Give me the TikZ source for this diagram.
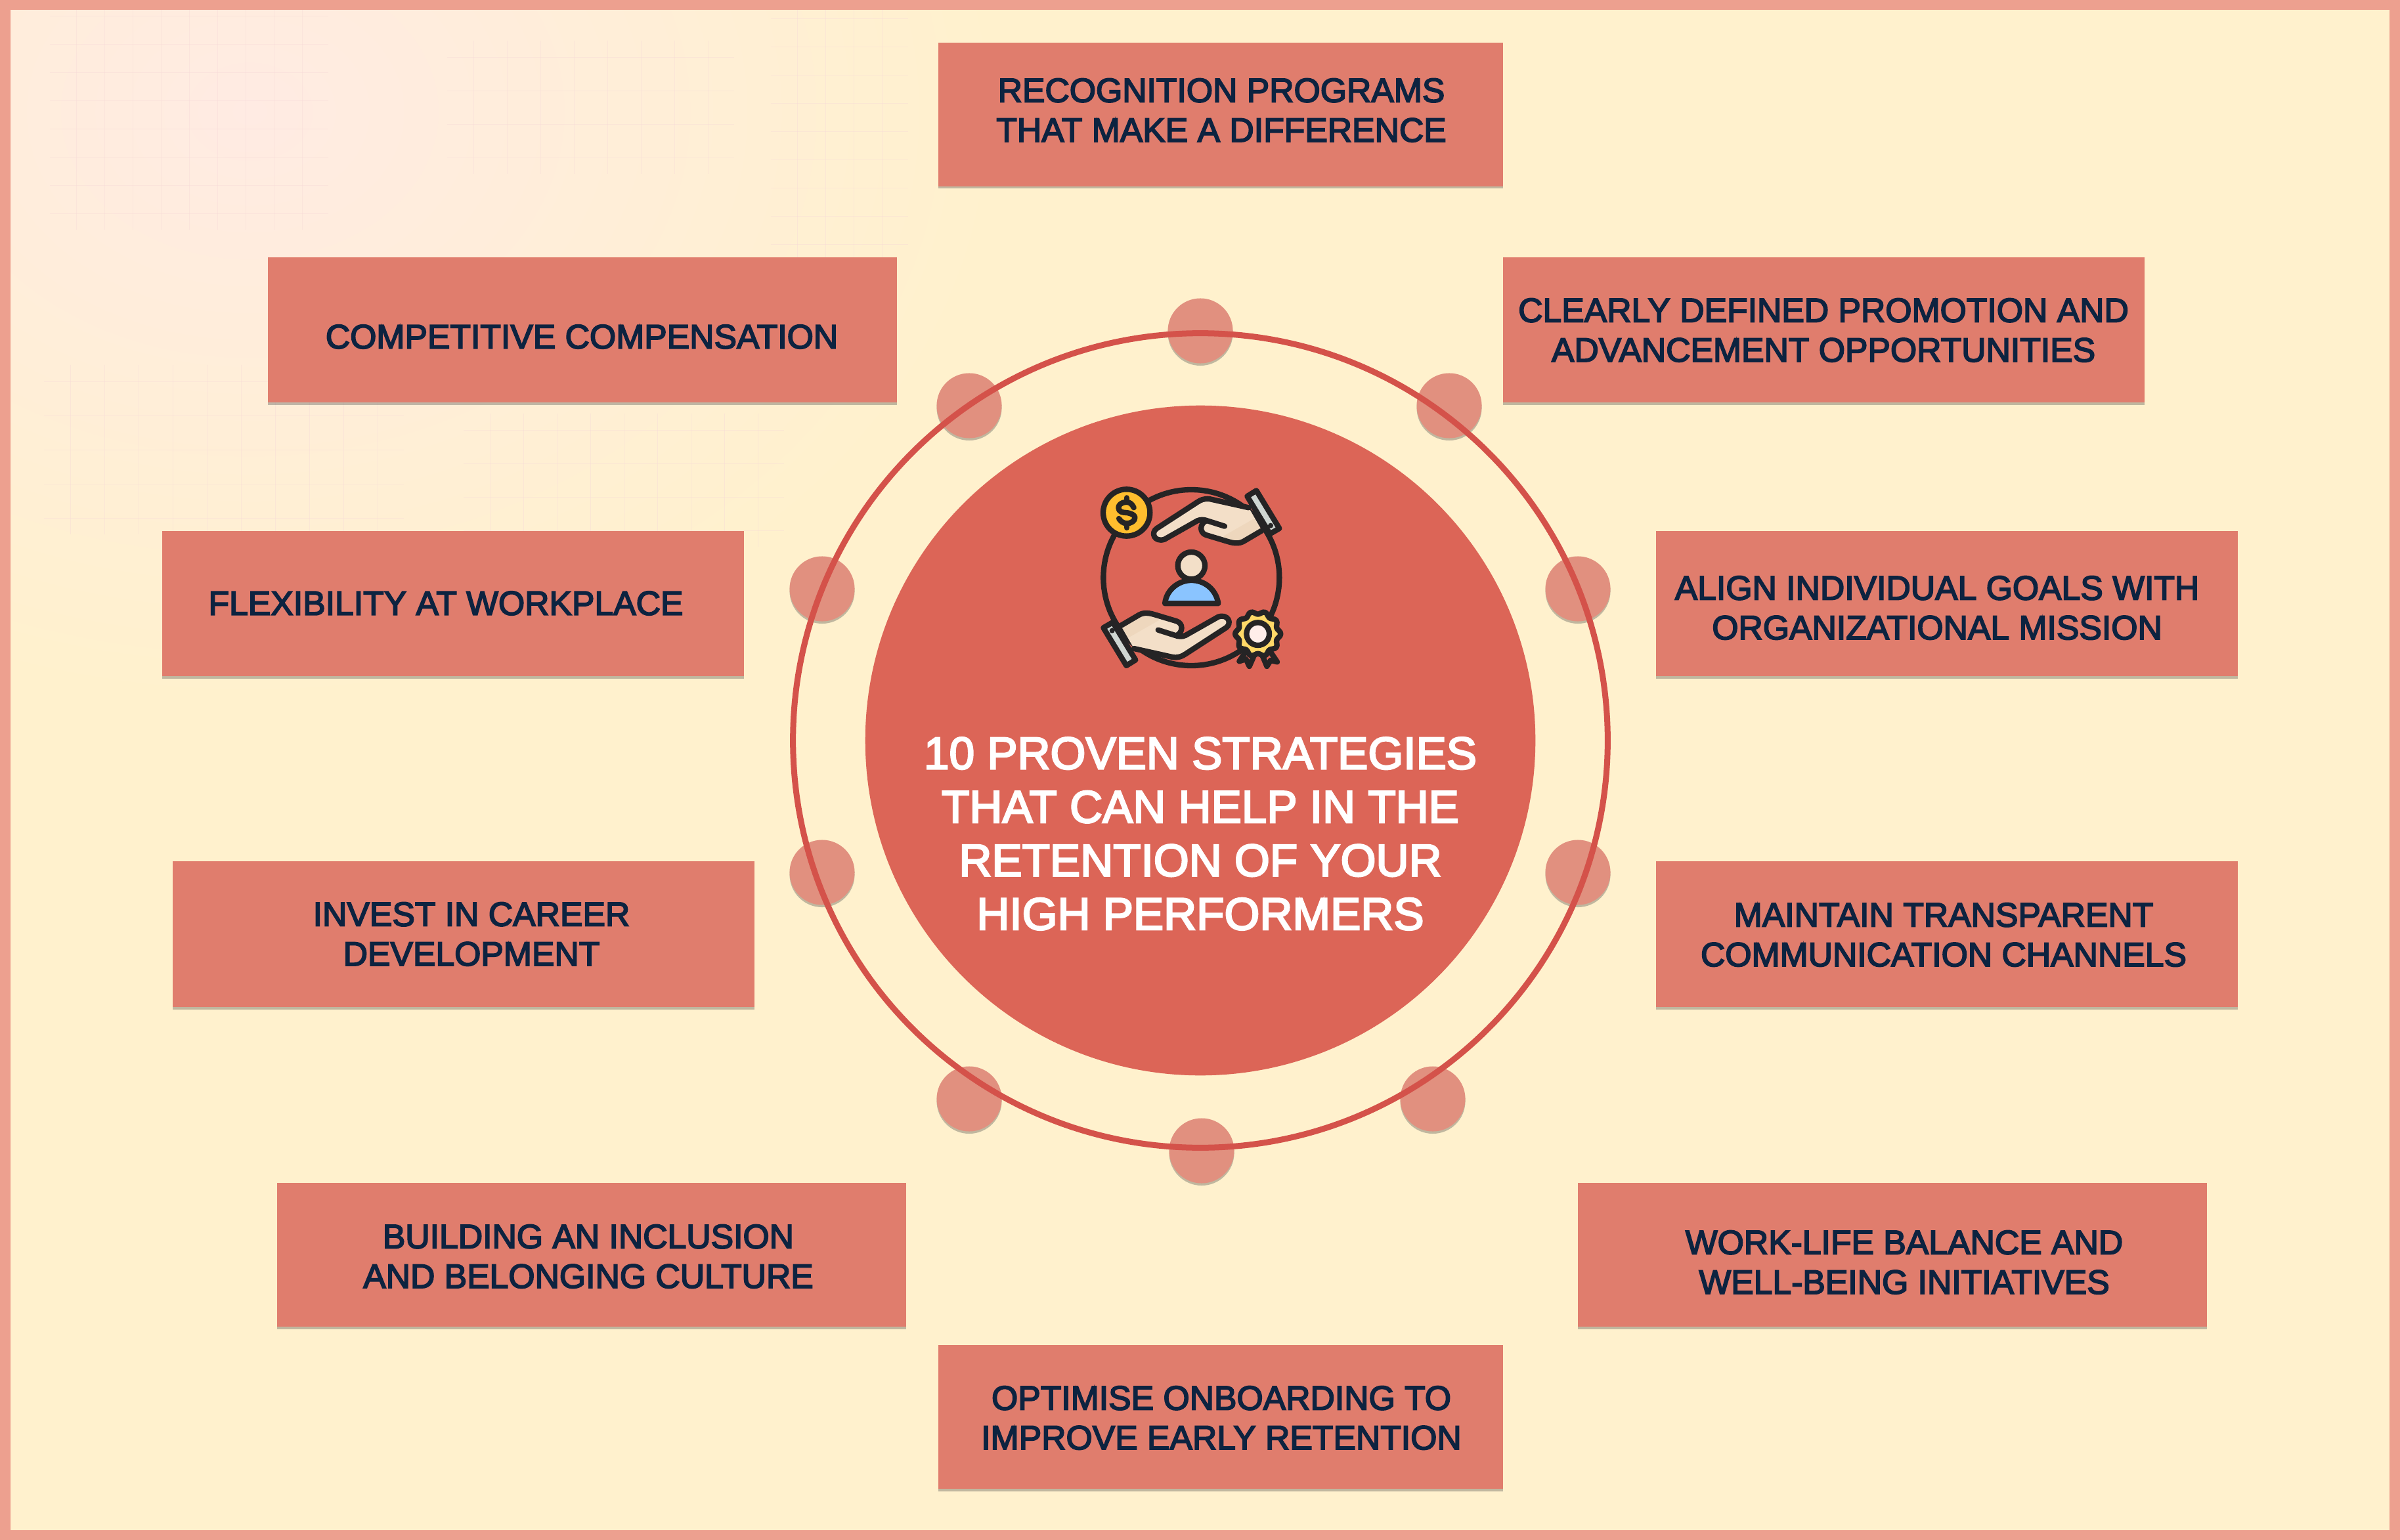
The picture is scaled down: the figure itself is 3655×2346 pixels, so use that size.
\documentclass[tikz,border=0pt]{standalone}
\usepackage{fontspec}
\setmainfont[FakeBold=3.5]{Liberation Sans}
\usetikzlibrary{shadows,shapes.geometric}
\definecolor{frame}{HTML}{EDA08F}
\definecolor{cream}{HTML}{FFF1CD}
\definecolor{glow}{HTML}{FFEBE3}
\definecolor{boxfill}{HTML}{E07D6D}
\definecolor{hubfill}{HTML}{DC6557}
\definecolor{ringline}{HTML}{D4524A}
\definecolor{dotfill}{HTML}{E1907F}
\definecolor{ink}{HTML}{0D2340}
\definecolor{iconline}{HTML}{252425}
\definecolor{skin}{HTML}{F3DFC8}
\definecolor{skindark}{HTML}{EED7BD}
\definecolor{cuff}{HTML}{CFD6D2}
\definecolor{coin}{HTML}{FFBE2E}
\definecolor{shirt}{HTML}{8AC4FF}
\definecolor{seal}{HTML}{FFD968}
\definecolor{sealmid}{HTML}{FFEEEA}
\tikzstyle{strategy} = [rectangle,fill=boxfill,inner sep=0pt,drop shadow={shadow xshift=0pt,shadow yshift=-0.035cm,opacity=.35,fill=black!70}]
\tikzstyle{strategy text} = [align=center,text=ink,font=\fontsize{14.7}{17.2}\selectfont,inner sep=0pt]
\tikzstyle{hub} = [circle,fill=hubfill,minimum size=10.2cm,inner sep=0pt]
\tikzstyle{hub text} = [align=center,text=white,font=\fontsize{19.7}{23.2}\selectfont,inner sep=0pt]
\tikzstyle{ring} = [circle,draw=ringline,line width=0.09cm,minimum size=12.4cm,inner sep=0pt]
\tikzstyle{dot} = [circle,fill=dotfill,minimum size=0.99cm,inner sep=0pt,drop shadow={shadow xshift=0pt,shadow yshift=-0.035cm,opacity=.35,fill=black!70}]
\tikzstyle{faint line} = [draw=ringline!22,line width=0.25pt,opacity=.4]
\tikzstyle{icon line} = [draw=iconline,line width=0.083cm,line join=round,line cap=round]
\begin{document}
\begin{tikzpicture}[x=0.01cm,y=-0.01cm]
	\useasboundingbox (0,0) rectangle (3655,2346);
	% Paper and the pink glow in the corner
	\fill[cream] (0,0) rectangle (3655,2346);
	\shade[inner color=glow,outer color=cream] (380,170) ellipse (1150 and 900);

	% Faint grid patches
	\foreach \xo/\yo/\nx/\ny/\dx/\dy in {116/24/8/7/43/43, 721/87/7/3/51/51, 1214/28/3/8/43/43, 107/581/9/4/52/52, 746/655/8/3/51/51}{
		\foreach \i in {0,...,\nx}
		\path[faint line] (\xo+\i*\dx,\yo-25) -- (\xo+\i*\dx,\yo+\ny*\dy+25);
		\foreach \j in {0,...,\ny}
		\path[faint line] (\xo-40,\yo+\j*\dy) -- (\xo+\nx*\dx+40,\yo+\j*\dy);
	}
	\fill[frame,even odd rule] (0,0) rectangle (3655,2346) (16,15) rectangle (3639,2331);

	% First we draw the dots, then the ring and the hub over them
	\foreach \pos/\name in {{(1828,504)/d1}, {(2207,618)/d2}, {(2403,897)/d3}, {(2403,1329)/d4}, {(2182,1674)/d5}, {(1830,1753)/d6}, {(1476,1674)/d7}, {(1252,1329)/d8}, {(1252,897)/d9}, {(1476,618)/d10}}
	\node[dot] (\name) at \pos {};
	\node[ring] (ring) at (1828,1128) {};
	\node[hub] (hub) at (1828,1128) {};
	\node[hub text] (title) at (1828,1270) {10 PROVEN STRATEGIES\\THAT CAN HELP IN THE\\RETENTION OF YOUR\\HIGH PERFORMERS};

	% Boxes: name, centre, size, then the centre of the text
	\foreach \name/\cx/\cy/\bw/\bh/\tx/\ty/\txt in {
		recognition/1859/174.5/860/219/1860/168/{RECOGNITION PROGRAMS\\THAT MAKE A DIFFERENCE},
		promotion/2777.5/502.5/977/221/2777/503/{CLEARLY DEFINED PROMOTION AND\\ADVANCEMENT OPPORTUNITIES},
		goals/2965/919.5/886/221/2950/926/{ALIGN INDIVIDUAL GOALS WITH\\ORGANIZATIONAL MISSION},
		channels/2965/1423/886/222/2960/1424/{MAINTAIN TRANSPARENT\\COMMUNICATION CHANNELS},
		balance/2882/1911.5/958/219/2900/1923/{WORK-LIFE BALANCE AND\\WELL-BEING INITIATIVES},
		onboarding/1859/2158.5/860/219/1860/2160/{OPTIMISE ONBOARDING TO\\IMPROVE EARLY RETENTION},
		culture/901/1911.5/958/219/896/1914/{BUILDING AN INCLUSION\\AND BELONGING CULTURE},
		career/706/1423/886/222/718/1423/{INVEST IN CAREER\\DEVELOPMENT},
		flexibility/690/919.5/886/221/679/919/{FLEXIBILITY AT WORKPLACE},
		compensation/887/502.5/958/221/886/513/{COMPETITIVE COMPENSATION}}{
		\node[strategy,minimum width=\bw*0.01cm,minimum height=\bh*0.01cm] (\name) at (\cx,\cy) {};
		\node[strategy text] (\name text) at (\tx,\ty) {\txt};
	}

	% The icon, in units of a third of a pixel
	\begin{scope}[shift={(1620,710)},x=0.01cm/3,y=-0.01cm/3]
		\draw[icon line] (583,510) circle (402);
		% Hands: the lower one is the upper one turned round
		\foreach \ang in {0,180}{
			\begin{scope}[rotate around={\ang:(583,512)}]
				\fill[skin] (845,190) -- (665,150) .. controls (640,148) and (625,155) .. (610,165) -- (425,285) .. controls (395,305) and (415,350) .. (460,335) -- (610,245) -- (650,250) .. controls (620,270) and (625,305) .. (650,315) -- (750,345) .. controls (790,358) and (810,350) .. (820,345) -- (905,295) -- cycle;
				\fill[skindark] (730,320) -- (870,240) -- (905,295) -- (820,345) .. controls (800,355) and (780,355) .. (750,345) -- cycle;
				\draw[icon line] (845,190) -- (665,150) .. controls (640,148) and (625,155) .. (610,165) -- (425,285) .. controls (395,305) and (415,350) .. (460,335) -- (610,250) .. controls (625,243) and (640,245) .. (650,248) -- (735,275);
				\draw[icon line] (650,250) .. controls (620,265) and (620,305) .. (650,315) -- (750,345) .. controls (790,358) and (810,350) .. (820,345) -- (905,295);
				\draw[icon line,fill=cuff] (838,138) -- (880,112) -- (985,285) -- (942,310) -- cycle;
				\fill[iconline] (945,272) circle (12);
			\end{scope}
		}
		% Coin with the dollar sign
		\draw[icon line,fill=coin] (287,213) circle (107);
		\draw[icon line] (320,190) .. controls (310,170) and (300,165) .. (287,165) .. controls (260,165) and (250,180) .. (250,190) .. controls (250,210) and (270,213) .. (287,213) .. controls (310,216) and (325,225) .. (325,235) .. controls (325,250) and (310,262) .. (287,262) .. controls (270,262) and (258,250) .. (252,240);
		\draw[icon line] (287,145) -- (287,165) (287,262) -- (287,282);
		% Person
		\draw[icon line,fill=skin] (583,455) circle (62);
		\draw[icon line,fill=shirt] (462,628) .. controls (470,560) and (530,522) .. (583,522) .. controls (640,522) and (695,560) .. (706,628) -- cycle;
		% Badge with its two ribbons
		\draw[icon line] (830,850) -- (802,892) -- (832,882) -- (848,915) -- (872,860);
		\draw[icon line] (945,850) -- (975,895) -- (945,888) -- (928,915) -- (905,860);
		\draw[icon line,fill=seal] plot[domain=0:360,samples=81,smooth] ({887+(97+7*cos(10*\x))*cos(\x)},{767+(97+7*cos(10*\x))*sin(\x)}) -- cycle;
		\draw[icon line,fill=sealmid] (887,767) circle (52);
	\end{scope}
\end{tikzpicture}
\end{document}
